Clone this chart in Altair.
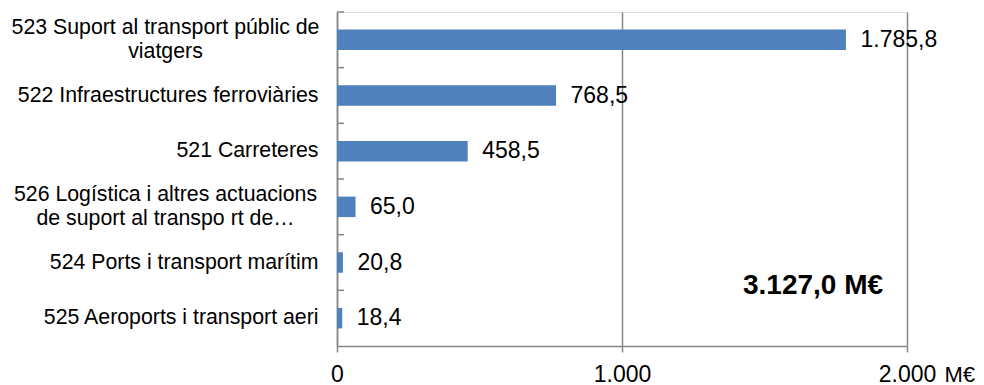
import altair as alt
import pandas as pd

categories = [
    "523 Suport al transport públic de|viatgers",
    "522 Infraestructures ferroviàries",
    "521 Carreteres",
    "526 Logística i altres actuacions|de suport al transpo rt de…",
    "524 Ports i transport marítim",
    "525 Aeroports i transport aeri",
]
values = [1785.8, 768.5, 458.5, 65.0, 20.8, 18.4]
x_ticks = [0, 1000, 2000]
total_value = 3127.0
unit_label = "M€"

df = pd.DataFrame({"cat": categories, "val": values})
df_total = pd.DataFrame({"total": [total_value]})

FONT = "Liberation Sans"
GRAY = "#868686"
swap = "replace(replace(replace({s}, ',', '_'), '.', ','), '_', '.')"
multi = "indexof(datum.value, '|') >= 0"

y_enc = alt.Y(
    "cat:N",
    sort=categories,
    scale=alt.Scale(paddingInner=0, paddingOuter=0),
    axis=alt.Axis(
        title=None,
        ticks=False,
        domainColor=GRAY,
        domainWidth=1.5,
        labelExpr="split(datum.label, '|')",
        labelFont=FONT,
        labelFontSize=21.3,
        labelColor="#000000",
        labelLineHeight=24,
        labelLimit=400,
        labelAlign={"condition": {"test": multi, "value": "center"}, "value": "right"},
        labelPadding={"condition": {"test": multi, "value": 172}, "value": 19},
        labelOffset={"condition": {"test": multi, "value": -12}, "value": 0},
    ),
)

x_enc = alt.X(
    "val:Q",
    scale=alt.Scale(domain=[0, 2000], nice=False),
    axis=alt.Axis(
        values=x_ticks,
        grid=True,
        gridColor=GRAY,
        gridWidth=1.5,
        domainColor=GRAY,
        domainWidth=1.5,
        tickColor=GRAY,
        tickWidth=1.5,
        tickSize=6,
        labelExpr=swap.format(s="format(datum.value, ',d')"),
        labelFont=FONT,
        labelFontSize=23,
        labelColor="#000000",
        labelPadding=11,
        labelFlush=False,
        title=unit_label,
        titleFont=FONT,
        titleFontSize=22,
        titleFontWeight="normal",
        titleColor="#000000",
        titleX=607,
        titleY=18,
        titleAlign="left",
        titleBaseline="top",
        titleAnchor="start",
    ),
)

base = alt.Chart(df)

bars = base.mark_bar(color="#4F81BD", size=20.5).encode(x=x_enc, y=y_enc)

labels = base.transform_calculate(
    lbl=swap.format(s="format(datum.val, ',.1f')")
).mark_text(
    align="left", baseline="middle", dx=14.5, font=FONT, fontSize=23, color="#000000"
).encode(x="val:Q", y=alt.Y("cat:N", sort=categories), text="lbl:N")

ticks = base.mark_rule(color=GRAY, strokeWidth=1.5).encode(
    y=alt.Y("cat:N", sort=categories, bandPosition=0),
    x=alt.value(0),
    x2=alt.value(7),
)

total = alt.Chart(df_total).transform_calculate(
    lbl=swap.format(s="format(datum.total, ',.1f')") + " + ' " + unit_label + "'"
).mark_text(
    align="center", baseline="middle", font=FONT, fontSize=28, fontWeight="bold", color="#000000"
).encode(x=alt.value(476), y=alt.value(274), text="lbl:N")

chart = alt.layer(bars, ticks, labels, total).properties(
    width=570,
    height=334,
    autosize=alt.AutoSizeParams(type="none"),
    padding={"left": 329, "top": 4, "right": 69, "bottom": 39},
).configure_view(stroke=None).configure(font=FONT)

chart.save("out.html", embed_options={"renderer": "svg", "actions": False})
